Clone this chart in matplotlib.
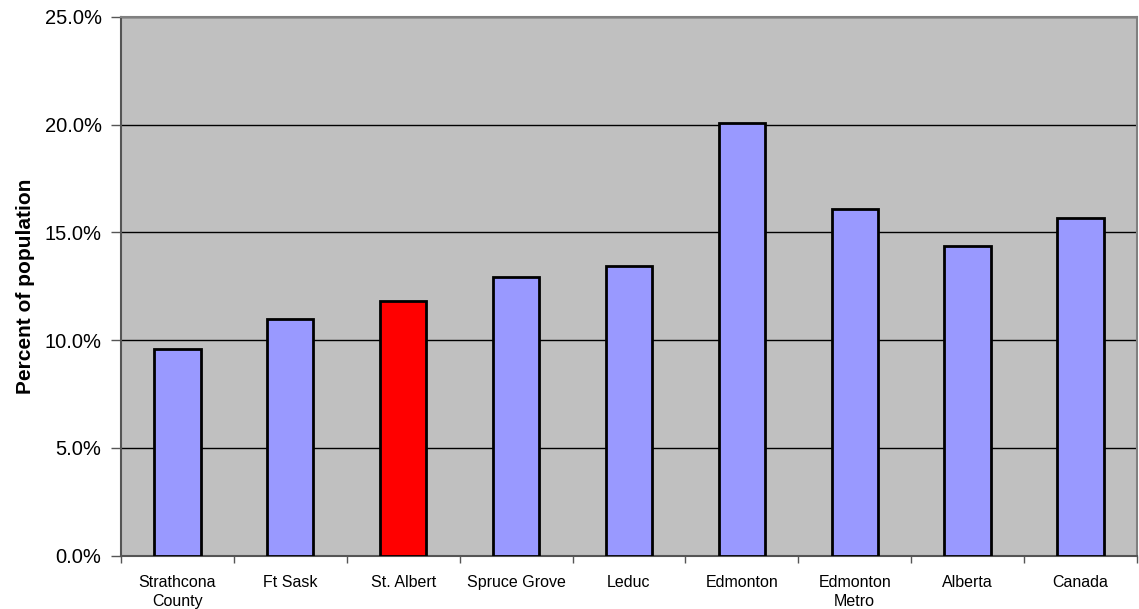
import matplotlib
matplotlib.use("Agg")
import matplotlib.pyplot as plt
from matplotlib.ticker import FuncFormatter, MultipleLocator

categories = ["Strathcona\nCounty", "Ft Sask", "St. Albert", "Spruce Grove", "Leduc",
              "Edmonton", "Edmonton\nMetro", "Alberta", "Canada"]
values = [9.58, 10.99, 11.83, 12.92, 13.46, 20.08, 16.08, 14.35, 15.67]
highlight = "St. Albert"

plt.rcParams["font.family"] = ["Liberation Sans", "DejaVu Sans"]

fig = plt.figure(figsize=(11.39, 6.09), dpi=100)
ax = fig.add_axes([0.1062, 0.0878, 0.8920, 0.8843])
ax.set_facecolor("#C0C0C0")

colors = ["#FF0000" if c == highlight else "#9999FF" for c in categories]
x = list(range(len(categories)))
ax.bar(x, values, width=0.41, color=colors, edgecolor="black", linewidth=2, zorder=3)

ax.set_xlim(-0.5, len(categories) - 0.5)
ax.set_ylim(0, 25)
ax.yaxis.set_major_locator(MultipleLocator(5))
ax.yaxis.set_major_formatter(FuncFormatter(lambda v, p: f"{v:.1f}%"))
ax.grid(axis="y", color="black", linewidth=1, zorder=1)

ax.set_xticks(x)
ax.set_xticklabels(categories, fontsize=11.5, linespacing=1.35)
ax.set_xticks([i - 0.5 for i in range(len(categories) + 1)], minor=True)
ax.tick_params(axis="x", which="major", length=0, pad=14)
ax.tick_params(axis="x", which="minor", length=5, width=1, color="#555555", direction="out")
ax.tick_params(axis="y", length=7, width=1, color="#555555", labelsize=14.5, pad=7)

ax.set_ylabel("Percent of population", fontsize=15, fontweight="bold", labelpad=7)

for side in ["left", "bottom"]:
    ax.spines[side].set_color("#555555")
    ax.spines[side].set_linewidth(1.5)
for side in ["top", "right"]:
    ax.spines[side].set_color("#808080")
    ax.spines[side].set_linewidth(1.5)

fig.savefig("out.png", dpi=100)
